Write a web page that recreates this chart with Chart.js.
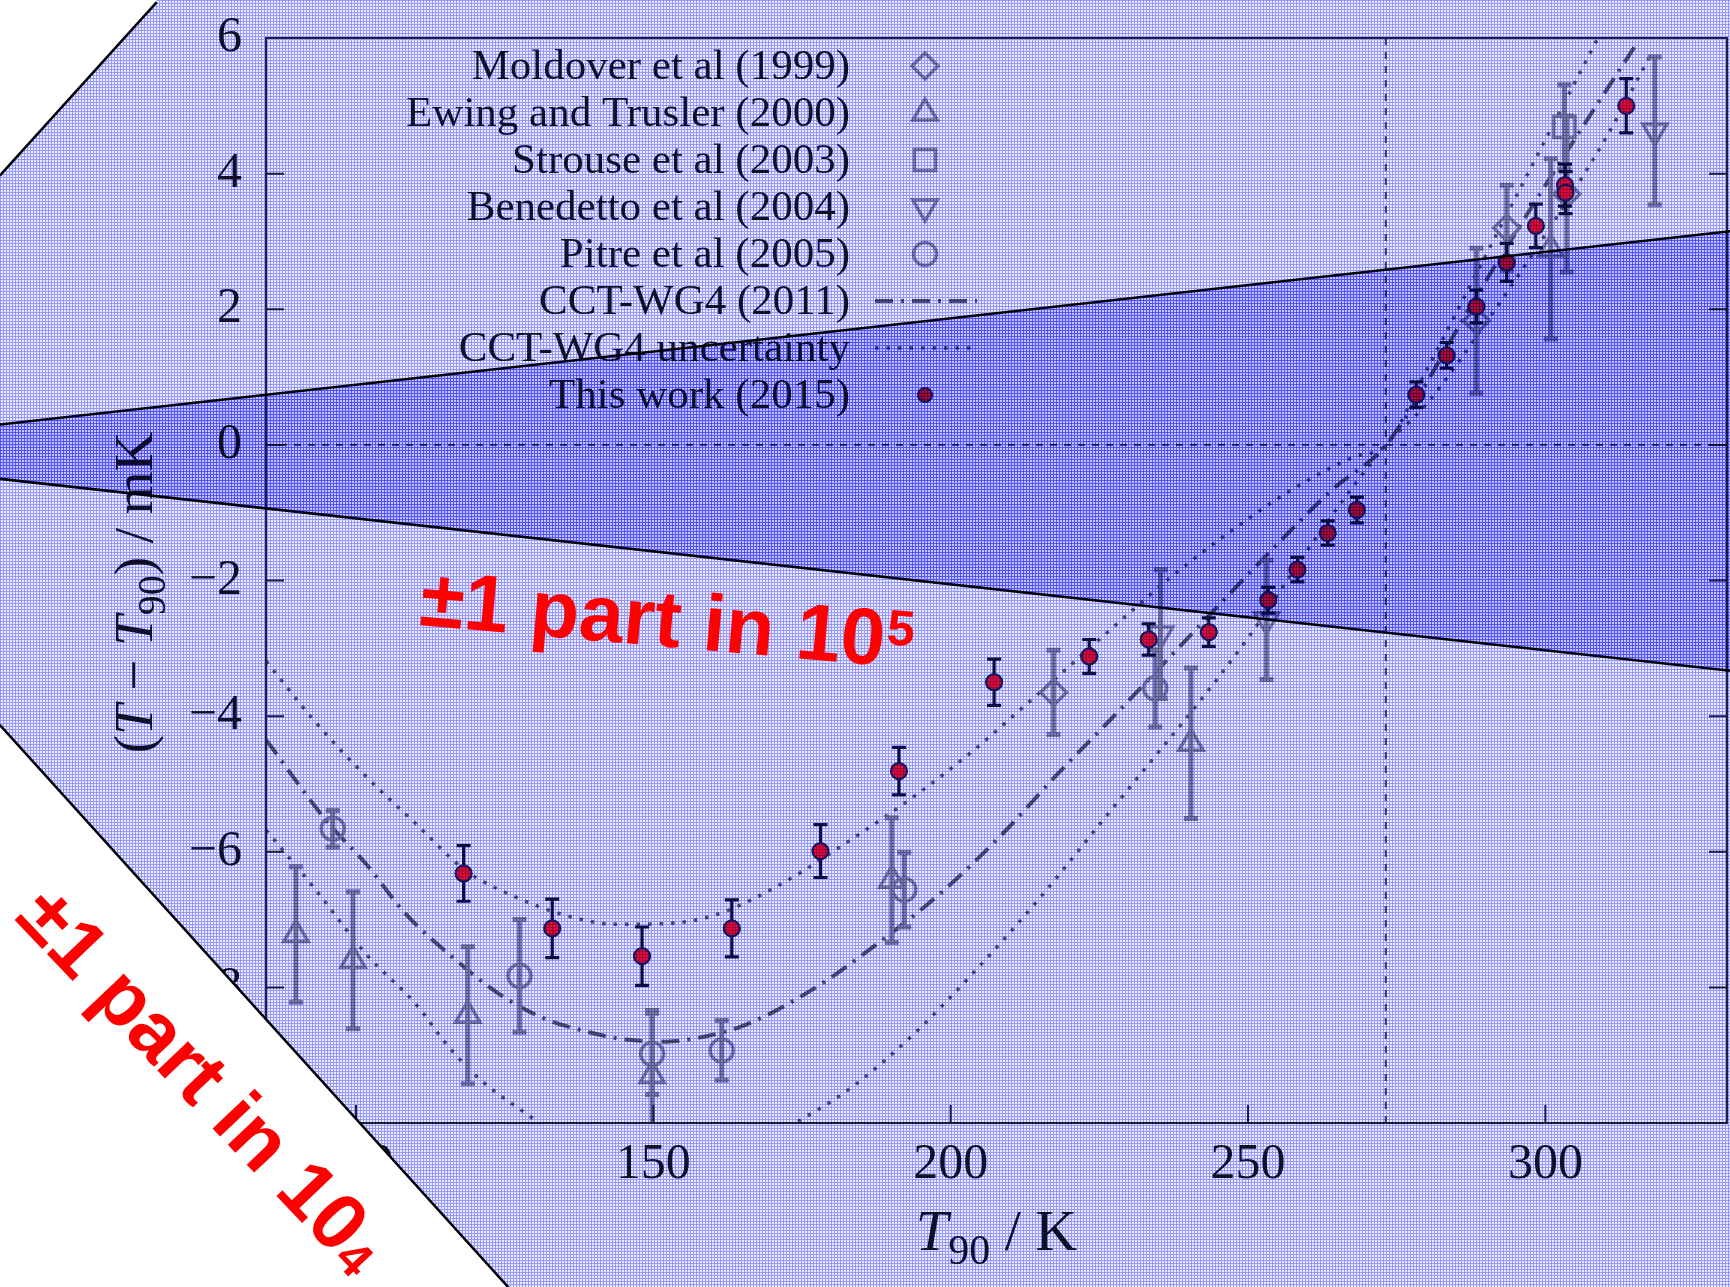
<!DOCTYPE html>
<html>
<head>
<meta charset="utf-8">
<title>T - T90 comparison</title>
<script src="https://cdn.jsdelivr.net/npm/chart.js@4.4.1/dist/chart.umd.min.js"></script>
<style>
html,body{margin:0;padding:0;background:#fff;overflow:hidden;}
canvas{display:block;}
</style>
</head>
<body>
<canvas id="chart" width="1730" height="1287"></canvas>
<script>
// ---------------- axes ----------------
const xRange = [84.87, 330.54];
const yRange = [-10, 6];
const xTickValues = [100, 150, 200, 250, 300];
const yTickValues = [-10, -8, -6, -4, -2, 0, 2, 4, 6];
const tpwT = 273.16;

// ---------------- This work (2015) ----------------
const thisWorkT   = [118.1, 133.0, 148.1, 163.2, 178.1, 191.3, 207.3, 223.3, 233.3, 243.4, 253.4, 258.3, 263.4, 268.3, 278.3, 283.4, 288.4, 293.5, 298.4, 303.3, 303.4, 313.6];
const thisWorkV   = [-6.32, -7.13, -7.54, -7.13, -5.99, -4.81, -3.50, -3.12, -2.87, -2.76, -2.29, -1.84, -1.30, -0.96, 0.74, 1.32, 2.04, 2.69, 3.23, 3.83, 3.72, 5.00];
const thisWorkErr = [0.41, 0.43, 0.43, 0.42, 0.39, 0.35, 0.34, 0.25, 0.23, 0.21, 0.19, 0.18, 0.18, 0.19, 0.19, 0.19, 0.24, 0.28, 0.32, 0.31, 0.31, 0.40];

// ---------------- earlier work ----------------
const moldoverT = [217.3, 288.4, 293.5, 303.6];
const moldoverV = [-3.65, 1.83, 3.20, 3.70];
const moldoverErr = [0.62, 1.07, 0.63, 1.15];

const ewingT = [89.9, 99.5, 118.8, 149.8, 190.1, 240.4, 300.9];
const ewingV = [-7.22, -7.60, -8.41, -9.30, -6.42, -4.40, 2.89];
const ewingErr = [1.00, 1.01, 1.01, 0.96, 0.92, 1.11, 1.33];

const strouseT = [303.2];
const strouseV = [4.69];
const strouseErr = [0.62];

const benedettoT = [235.3, 253.1, 318.4];
const benedettoV = [-2.79, -2.58, 4.63];
const benedettoErr = [0.95, 0.88, 1.09];

const pitreT = [96.1, 127.5, 149.8, 161.5, 192.2, 234.4];
const pitreV = [-5.66, -7.83, -8.98, -8.93, -6.56, -3.59];
const pitreErr = [0.27, 0.83, 0.60, 0.44, 0.55, 0.57];

// ---------------- CCT-WG4 (2011) and its uncertainty ----------------
const cctT = [84.9, 95.0, 101.7, 108.4, 116.3, 124.1, 131.4, 138.7, 145.4, 152.1, 158.9, 165.6, 177.7, 187.9, 198.7, 208.9, 217.9, 226.9, 239.1, 253.1, 264.3, 273.2, 288.6, 298.0, 308.4, 315.0];
const cctV = [-4.35, -5.54, -6.18, -6.92, -7.56, -8.10, -8.45, -8.65, -8.77, -8.80, -8.72, -8.55, -7.98, -7.34, -6.58, -5.72, -4.86, -4.05, -2.92, -1.63, -0.65, 0.0, 2.22, 3.55, 4.98, 5.87];

const uncUpperT = [84.9, 93.3, 101.7, 110.1, 118.5, 126.9, 135.3, 143.7, 152.1, 160.5, 171.6, 183.1, 193.9, 203.5, 211.9, 220.9, 229.9, 236.9, 248.1, 257.6, 267.7, 273.2, 280.0, 290.0, 300.0, 310.0];
const uncUpperV = [-3.19, -4.10, -4.89, -5.59, -6.28, -6.67, -6.94, -7.07, -7.06, -6.93, -6.47, -5.83, -5.18, -4.53, -3.89, -3.19, -2.49, -1.96, -1.21, -0.65, -0.18, 0.0, 1.10, 2.80, 4.50, 6.20];

const uncLowerT = [84.9, 93.3, 101.7, 110.1, 115.7, 121.3, 129.7, 140.0, 160.0, 172.3, 183.1, 193.9, 204.6, 214.9, 223.9, 232.9, 241.9, 250.3, 262.0, 273.2, 280.0, 290.0, 300.0, 310.0, 318.0];
const uncLowerV = [-5.68, -6.57, -7.51, -8.25, -8.89, -9.39, -9.93, -10.6, -10.7, -10.08, -9.49, -8.68, -7.71, -6.69, -5.72, -4.75, -3.78, -2.81, -1.30, 0.0, 0.60, 1.80, 3.10, 4.50, 5.80];

// ---------------- relative-accuracy bands (T in K, mK) ----------------
const band5T = [40.0, 332.0];        // +-1 part in 10^5
const band5Upper = [0.30, 3.16];
const band5Lower = [-0.50, -3.34];
const band4UpperT = [40.1, 66.5];    // +-1 part in 10^4
const band4UpperV = [3.97, 6.53];
const band4LowerT = [40.1, 125.9];
const band4LowerV = [-4.13, -12.45];

// ---------------- texts ----------------
const legendLabels = ['Moldover et al (1999)', 'Ewing and Trusler (2000)', 'Strouse et al (2003)', 'Benedetto et al (2004)', 'Pitre et al (2005)', 'CCT-WG4 (2011)', 'CCT-WG4 uncertainty', 'This work (2015)'];
const band5Text = ['\u00b11 part in 10', '5'];
const band4Text = ['\u00b11 part in 10', '4'];

// ---------------- styling ----------------
const GRAY = 'rgb(140,140,156)';
const CURVE = 'rgb(92,92,108)';
const INK = '#141428';
const SERIF = '"Liberation Serif", "DejaVu Serif", serif';
const SANS = '"Liberation Sans", Arial, sans-serif';

const pts = (T, V) => T.map((t, i) => ({x: t, y: V[i]}));

function refSet(label, T, V, E, style, radius, rot) {
  return {
    label, data: pts(T, V), errs: E, errKind: 'gray', legendKind: 'marker',
    pointStyle: style, pointRadius: radius, pointRotation: rot || 0,
    pointBackgroundColor: 'rgba(0,0,0,0)', pointBorderColor: GRAY, pointBorderWidth: 3.5,
    pointHoverRadius: radius, showLine: false, order: 1
  };
}

const datasets = [
  refSet(legendLabels[0], moldoverT, moldoverV, moldoverErr, 'rectRot', 13, 0),
  refSet(legendLabels[1], ewingT, ewingV, ewingErr, 'triangle', 14, 0),
  refSet(legendLabels[2], strouseT, strouseV, strouseErr, 'rect', 15, 0),
  refSet(legendLabels[3], benedettoT, benedettoV, benedettoErr, 'triangle', 14, 180),
  refSet(legendLabels[4], pitreT, pitreV, pitreErr, 'circle', 11.5, 0),
  {
    label: legendLabels[5], legendKind: 'line', data: pts(cctT, cctV), showLine: true,
    borderColor: CURVE, borderWidth: 4, borderDash: [18, 8, 3, 8], pointRadius: 0,
    cubicInterpolationMode: 'monotone', fill: false, order: 2
  },
  {
    label: legendLabels[6], legendKind: 'line', data: pts(uncUpperT, uncUpperV), showLine: true,
    borderColor: CURVE, borderWidth: 3.5, borderDash: [3.5, 8], pointRadius: 0,
    cubicInterpolationMode: 'monotone', fill: false, order: 2
  },
  {
    label: legendLabels[6] + ' (lower)', data: pts(uncLowerT, uncLowerV), showLine: true,
    borderColor: CURVE, borderWidth: 3.5, borderDash: [3.5, 8], pointRadius: 0,
    cubicInterpolationMode: 'monotone', fill: false, order: 2
  },
  {
    label: legendLabels[7], legendKind: 'dot', data: pts(thisWorkT, thisWorkV), errs: thisWorkErr, errKind: 'dark',
    pointStyle: 'circle', pointRadius: 8, pointBackgroundColor: '#ff0a38', pointBorderColor: '#1c1c5e',
    pointBorderWidth: 2.2, showLine: false, order: 0
  },
  {
    label: 'zero', data: [{x: xRange[0], y: 0}, {x: xRange[1], y: 0}], showLine: true,
    borderColor: '#4a4a5a', borderWidth: 2, borderDash: [7, 7], pointRadius: 0, order: 3
  },
  {
    label: 'TPW', data: [{x: tpwT, y: yRange[0]}, {x: tpwT, y: yRange[1]}], showLine: true,
    borderColor: '#4a4a5a', borderWidth: 2, borderDash: [7, 7], pointRadius: 0, order: 3
  }
];

// mesh pattern for the photographed-screen look
function meshPattern(ctx, lineCol, fillCol) {
  const c = document.createElement('canvas');
  c.width = 3; c.height = 3;
  const g = c.getContext('2d');
  g.fillStyle = fillCol; g.fillRect(0, 0, 3, 3);
  g.fillStyle = lineCol; g.fillRect(0, 0, 3, 1); g.fillRect(0, 0, 1, 3);
  return ctx.createPattern(c, 'repeat');
}

function drawErrorBars(chart, ds) {
  const ctx = chart.ctx, xs = chart.scales.x, ys = chart.scales.y, a = chart.chartArea;
  const dark = ds.errKind === 'dark';
  ctx.save();
  ctx.beginPath(); ctx.rect(a.left, a.top, a.right - a.left, a.bottom - a.top); ctx.clip();
  ctx.strokeStyle = dark ? '#101040' : GRAY;
  ctx.lineWidth = dark ? 3.2 : 5;
  const cap = 7;
  ds.data.forEach((p, i) => {
    const e = ds.errs[i];
    const x = xs.getPixelForValue(p.x);
    const y1 = ys.getPixelForValue(p.y + e), y2 = ys.getPixelForValue(p.y - e);
    ctx.beginPath();
    ctx.moveTo(x, y1); ctx.lineTo(x, y2);
    ctx.moveTo(x - cap, y1); ctx.lineTo(x + cap, y1);
    ctx.moveTo(x - cap, y2); ctx.lineTo(x + cap, y2);
    ctx.stroke();
  });
  ctx.restore();
}

function richText(ctx, pieces, size) {
  let w = 0;
  const fontFor = p => (p.s === 'i' ? 'italic ' : '') + Math.round(p.s === 'sub' ? size * 0.72 : size) + 'px ' + SERIF;
  pieces.forEach(p => { ctx.font = fontFor(p); p.w = ctx.measureText(p.t).width; w += p.w; });
  let x = -w / 2;
  pieces.forEach(p => { ctx.font = fontFor(p); ctx.fillText(p.t, x, p.s === 'sub' ? size * 0.24 : 0); x += p.w; });
}

function redText(ctx, cx, cy, angleDeg, parts, size, supMode) {
  ctx.save();
  ctx.translate(cx, cy);
  ctx.rotate(angleDeg * Math.PI / 180);
  const big = 'bold ' + size + 'px ' + SANS, small = 'bold ' + Math.round(size * 0.62) + 'px ' + SANS;
  ctx.font = big; const w1 = ctx.measureText(parts[0]).width;
  ctx.font = small; const w2 = ctx.measureText(parts[1]).width;
  const tot = w1 + w2, cap = size * 0.716;
  ctx.fillStyle = '#ff0000'; ctx.textAlign = 'left'; ctx.textBaseline = 'alphabetic';
  ctx.font = big; ctx.fillText(parts[0], -tot / 2, cap / 2);
  ctx.font = small;
  ctx.fillText(parts[1], -tot / 2 + w1 + 1, supMode === 'up' ? cap / 2 - cap * 0.38 : cap / 2 + size * 0.04);
  ctx.restore();
}

const decorPlugin = {
  id: 'decor',
  beforeDraw(chart) {
    const ctx = chart.ctx;
    ctx.save(); ctx.fillStyle = '#ffffff'; ctx.fillRect(0, 0, chart.width, chart.height); ctx.restore();
  },
  beforeDatasetDraw(chart, args) {
    const ds = chart.data.datasets[args.index];
    if (ds.errs) drawErrorBars(chart, ds);
  },
  afterDraw(chart) {
    const ctx = chart.ctx, xs = chart.scales.x, ys = chart.scales.y, a = chart.chartArea;
    const W = chart.width, H = chart.height;
    ctx.save();
    // frame + inward ticks
    ctx.strokeStyle = '#26263a'; ctx.lineWidth = 2;
    ctx.strokeRect(a.left, a.top, a.right - a.left, a.bottom - a.top);
    ctx.beginPath();
    yTickValues.forEach(v => {
      const y = ys.getPixelForValue(v);
      ctx.moveTo(a.left, y); ctx.lineTo(a.left + 18, y);
      ctx.moveTo(a.right, y); ctx.lineTo(a.right - 18, y);
    });
    xTickValues.forEach(v => {
      const x = xs.getPixelForValue(v);
      ctx.moveTo(x, a.bottom); ctx.lineTo(x, a.bottom - 18);
    });
    ctx.stroke();

    // axis titles
    ctx.fillStyle = INK; ctx.textBaseline = 'alphabetic'; ctx.textAlign = 'left';
    ctx.save();
    ctx.translate(152, (a.top + a.bottom) / 2 + 12);
    ctx.rotate(-Math.PI / 2);
    richText(ctx, [{t: '(', s: 'n'}, {t: 'T', s: 'i'}, {t: ' \u2212 ', s: 'n'}, {t: 'T', s: 'i'}, {t: '90', s: 'sub'}, {t: ') / mK', s: 'n'}], 55);
    ctx.restore();
    ctx.save();
    ctx.translate((a.left + a.right) / 2, 1250);
    richText(ctx, [{t: 'T', s: 'i'}, {t: '90', s: 'sub'}, {t: ' / K', s: 'n'}], 58);
    ctx.restore();

    // legend
    const legX = 850, symX = 925, legY0 = 66, legDY = 47;
    const items = chart.data.datasets.filter(d => d.legendKind);
    ctx.font = '43px ' + SERIF; ctx.textAlign = 'right'; ctx.textBaseline = 'middle';
    items.forEach((d, i) => {
      const y = legY0 + i * legDY;
      ctx.fillStyle = INK;
      ctx.fillText(d.label, legX, y + 2);
      if (d.legendKind === 'marker') {
        ctx.save();
        ctx.strokeStyle = GRAY; ctx.fillStyle = 'rgba(0,0,0,0)'; ctx.lineWidth = 3.5;
        Chart.helpers.drawPoint(ctx, {pointStyle: d.pointStyle, rotation: d.pointRotation, radius: d.pointRadius, borderWidth: 3.5}, symX, y);
        ctx.restore();
      } else if (d.legendKind === 'line') {
        ctx.save();
        ctx.strokeStyle = d.borderColor; ctx.lineWidth = d.borderWidth; ctx.setLineDash(d.borderDash);
        ctx.beginPath(); ctx.moveTo(875, y); ctx.lineTo(977, y); ctx.stroke();
        ctx.restore();
      } else if (d.legendKind === 'dot') {
        ctx.save();
        ctx.fillStyle = d.pointBackgroundColor; ctx.strokeStyle = d.pointBorderColor; ctx.lineWidth = 2.2;
        ctx.beginPath(); ctx.arc(symX, y, 7, 0, Math.PI * 2); ctx.fill(); ctx.stroke();
        ctx.restore();
      }
    });

    // screen mesh over everything
    ctx.globalCompositeOperation = 'multiply';
    ctx.fillStyle = meshPattern(ctx, 'rgb(150,150,255)', 'rgb(236,236,255)');
    ctx.fillRect(0, 0, W, H);

    // +-1 part in 10^5 band
    const p1 = [xs.getPixelForValue(band5T[0]), ys.getPixelForValue(band5Upper[0])];
    const p2 = [xs.getPixelForValue(band5T[1]), ys.getPixelForValue(band5Upper[1])];
    const p3 = [xs.getPixelForValue(band5T[1]), ys.getPixelForValue(band5Lower[1])];
    const p4 = [xs.getPixelForValue(band5T[0]), ys.getPixelForValue(band5Lower[0])];
    ctx.fillStyle = meshPattern(ctx, 'rgb(140,140,255)', 'rgb(212,212,255)');
    ctx.beginPath(); ctx.moveTo(p1[0], p1[1]); ctx.lineTo(p2[0], p2[1]); ctx.lineTo(p3[0], p3[1]); ctx.lineTo(p4[0], p4[1]); ctx.closePath();
    ctx.fill();
    ctx.globalCompositeOperation = 'source-over';
    ctx.strokeStyle = '#000'; ctx.lineWidth = 2.5;
    ctx.beginPath(); ctx.moveTo(p1[0], p1[1]); ctx.lineTo(p2[0], p2[1]); ctx.moveTo(p4[0], p4[1]); ctx.lineTo(p3[0], p3[1]); ctx.stroke();

    // outside +-1 part in 10^4 : white corners
    const uA = [xs.getPixelForValue(band4UpperT[0]), ys.getPixelForValue(band4UpperV[0])];
    const uB = [xs.getPixelForValue(band4UpperT[1]), ys.getPixelForValue(band4UpperV[1])];
    const lA = [xs.getPixelForValue(band4LowerT[0]), ys.getPixelForValue(band4LowerV[0])];
    const lB = [xs.getPixelForValue(band4LowerT[1]), ys.getPixelForValue(band4LowerV[1])];
    ctx.fillStyle = '#ffffff';
    ctx.beginPath(); ctx.moveTo(uA[0], uA[1]); ctx.lineTo(uB[0], uB[1]); ctx.lineTo(uB[0], uB[1] - 20); ctx.lineTo(uA[0] - 20, uB[1] - 20); ctx.lineTo(uA[0] - 20, uA[1]); ctx.closePath(); ctx.fill();
    ctx.beginPath(); ctx.moveTo(lA[0], lA[1]); ctx.lineTo(lB[0], lB[1]); ctx.lineTo(lB[0], lB[1] + 20); ctx.lineTo(lA[0] - 20, lB[1] + 20); ctx.lineTo(lA[0] - 20, lA[1]); ctx.closePath(); ctx.fill();
    ctx.strokeStyle = '#000'; ctx.lineWidth = 2.5;
    ctx.beginPath(); ctx.moveTo(uA[0], uA[1]); ctx.lineTo(uB[0], uB[1]); ctx.moveTo(lA[0], lA[1]); ctx.lineTo(lB[0], lB[1]); ctx.stroke();

    // red annotations
    redText(ctx, 667, 618, 5, band5Text, 80, 'up');
    redText(ctx, 204, 1078, 46.5, band4Text, 80, 'down');
    ctx.restore();
  }
};

function noPad(s) { s.paddingLeft = 0; s.paddingRight = 0; s.paddingTop = 0; s.paddingBottom = 0; }

new Chart(document.getElementById('chart'), {
  type: 'scatter',
  data: {datasets},
  plugins: [decorPlugin],
  options: {
    responsive: false, animation: false, devicePixelRatio: 1,
    layout: {autoPadding: false, padding: {left: 0, right: 3, top: 38, bottom: 0}},
    plugins: {legend: {display: false}, tooltip: {enabled: false}},
    elements: {line: {tension: 0}},
    scales: {
      x: {
        type: 'linear', min: xRange[0], max: xRange[1],
        afterBuildTicks: s => { s.ticks = xTickValues.map(v => ({value: v})); },
        afterFit: s => { s.height = 164; noPad(s); },
        grid: {display: false, drawTicks: false}, border: {display: false},
        ticks: {font: {family: SERIF, size: 50}, color: INK, padding: 12, maxRotation: 0, autoSkip: false}
      },
      y: {
        type: 'linear', min: yRange[0], max: yRange[1],
        afterBuildTicks: s => { s.ticks = yTickValues.map(v => ({value: v})); },
        afterFit: s => { s.width = 266; noPad(s); },
        grid: {display: false, drawTicks: false}, border: {display: false},
        ticks: {font: {family: SERIF, size: 50}, color: INK, padding: 24, autoSkip: false,
          callback: v => (v < 0 ? '\u2212' + Math.abs(v) : String(v))}
      }
    }
  }
});
</script>
</body>
</html>
